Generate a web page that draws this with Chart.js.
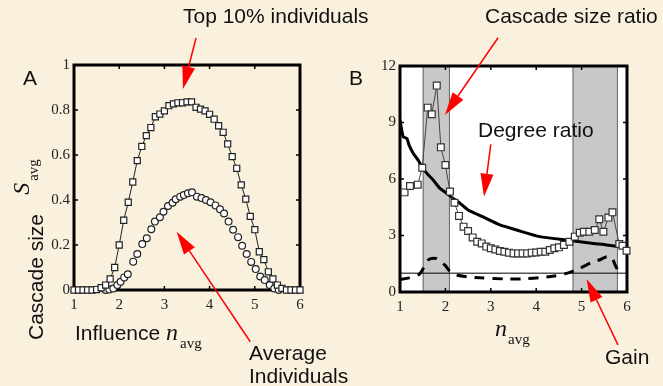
<!DOCTYPE html>
<html>
<head>
<meta charset="utf-8">
<script src="https://cdn.jsdelivr.net/npm/chart.js@4.4.0/dist/chart.umd.min.js"></script>
<style>
  html, body { margin: 0; padding: 0; }
  body {
    width: 663px; height: 386px; position: relative; overflow: hidden;
    background: #f9f1de;
    font-family: "Liberation Sans", Arial, sans-serif;
  }
  .box { position: absolute; top: 0; height: 386px; }
  #boxA { left: 0; width: 340px; }
  #boxB { left: 330px; width: 333px; }
  .lbl { position: absolute; font-size: 21px; color: #111; white-space: nowrap; line-height: 1; }
  .serif { font-family: "Liberation Serif", "Times New Roman", serif; }
  .rot { transform: translate(-50%, -50%) rotate(-90deg); }
</style>
</head>
<body>
<div class="box" id="boxA"><canvas id="chartA" width="340" height="386"></canvas></div>
<div class="box" id="boxB"><canvas id="chartB" width="333" height="386"></canvas></div>

<div class="lbl" style="left:183px; top:5px;">Top 10% individuals</div>
<div class="lbl" style="left:485px; top:5px;">Cascade size ratio</div>
<div class="lbl" style="left:478px; top:119px;">Degree ratio</div>
<div class="lbl" style="left:249px; top:342px;">Average</div>
<div class="lbl" style="left:249px; top:365px;">Individuals</div>
<div class="lbl" style="left:605px; top:346px;">Gain</div>
<div class="lbl" style="left:23px; top:67px;">A</div>
<div class="lbl" style="left:349px; top:67px;">B</div>
<div class="lbl rot" style="left:35px; top:277px;">Cascade size</div>
<div class="lbl rot serif" style="left:21px; top:178px;"><i style="font-size:24px;">S</i><span style="font-size:15px; position:relative; top:9px; left:2px;">avg</span></div>
<div class="lbl" style="left:75px; top:320px;">Influence <span class="serif"><i style="font-size:24px;">n</i><span style="font-size:15px; position:relative; top:8px; left:2px;">avg</span></span></div>
<div class="lbl serif" style="left:495px; top:316px;"><i style="font-size:24px;">n</i><span style="font-size:15px; position:relative; top:8px; left:1px;">avg</span></div>

<script>
// ---- Panel A: cascade size vs influence ----
const topN = [1.0, 1.1, 1.2, 1.3, 1.4, 1.5, 1.6, 1.7, 1.8, 1.9, 2.0, 2.1, 2.2, 2.3, 2.4, 2.5, 2.6, 2.7, 2.8, 2.9,
              3.0, 3.1, 3.2, 3.3, 3.4, 3.5, 3.6, 3.7, 3.8, 3.9, 4.0, 4.1, 4.2, 4.3, 4.4, 4.5, 4.6, 4.7, 4.8, 4.9,
              5.0, 5.1, 5.2, 5.3, 5.4, 5.5, 5.6, 5.7, 5.8, 5.9, 6.0];
const topS = [0, 0, 0, 0, 0, 0.002, 0.01, 0.022, 0.049, 0.1, 0.2, 0.31, 0.39, 0.48, 0.575, 0.638, 0.686, 0.722, 0.77, 0.782,
              0.796, 0.819, 0.827, 0.832, 0.832, 0.836, 0.836, 0.812, 0.804, 0.796, 0.781, 0.759, 0.73, 0.701, 0.649, 0.593, 0.541, 0.467, 0.404, 0.327,
              0.268, 0.17, 0.135, 0.081, 0.049, 0.022, 0.007, 0, 0, 0, 0];

const avgN = [1.7, 1.78, 1.87, 1.96, 2.03, 2.11, 2.19, 2.31, 2.40, 2.51, 2.61, 2.71, 2.79, 2.90, 2.98, 3.08, 3.18, 3.25,
              3.35, 3.43, 3.52, 3.61, 3.72, 3.82, 3.92, 4.02, 4.13, 4.23, 4.32, 4.42, 4.52, 4.63, 4.72, 4.82, 4.92,
              5.02, 5.12, 5.22, 5.33, 5.43, 5.53];
const avgS = [0, 0.002, 0.007, 0.022, 0.037, 0.056, 0.07, 0.126, 0.16, 0.204, 0.23, 0.27, 0.304, 0.323, 0.348, 0.373, 0.388, 0.403,
              0.415, 0.422, 0.43, 0.434, 0.415, 0.409, 0.4, 0.39, 0.376, 0.359, 0.34, 0.304, 0.268, 0.235, 0.197, 0.16, 0.125,
              0.093, 0.06, 0.044, 0.022, 0.007, 0];

// ---- Panel B: ratios and gain ----
const ratioN = [1.1, 1.22, 1.39, 1.49, 1.61, 1.70, 1.81, 1.90, 2.0, 2.1, 2.2, 2.3, 2.4, 2.5, 2.6, 2.7, 2.8, 2.9,
                3.0, 3.1, 3.2, 3.3, 3.4, 3.5, 3.6, 3.7, 3.8, 3.9, 4.0, 4.1, 4.2, 4.3, 4.4, 4.5,
                4.61, 4.73, 4.85, 4.96, 5.05, 5.17, 5.29, 5.39, 5.48, 5.59, 5.68, 5.83, 5.9, 5.99];
const ratioV = [5.29, 5.63, 5.70, 6.6, 9.79, 9.44, 10.96, 7.68, 6.74, 5.33, 4.74, 4.04, 3.47, 3.24, 2.9, 2.67, 2.58, 2.41,
                2.32, 2.26, 2.18, 2.14, 2.09, 2.05, 2.05, 2.05, 2.05, 2.09, 2.1, 2.14, 2.14, 2.23, 2.32, 2.37,
                2.5, 2.67, 2.94, 3.15, 3.2, 3.2, 3.29, 3.86, 3.2, 3.95, 4.23, 2.55, 2.46, 2.19];

const degreeN = [1.0, 1.07, 1.15, 1.2, 1.29, 1.4, 1.48, 1.59, 1.73, 1.88, 2.03, 2.17, 2.32, 2.5, 2.69, 2.84,
                 3.2, 3.57, 4.08, 4.67, 5.26, 5.55, 5.99];
const degreeV = [9.13, 8.25, 8.16, 7.8, 7.37, 7.0, 6.65, 6.3, 5.95, 5.5, 5.24, 4.97, 4.71, 4.35, 4.14, 3.97,
                 3.56, 3.29, 2.94, 2.76, 2.58, 2.5, 2.35];

const gainN = [1.0, 1.2, 1.44, 1.62, 1.8, 1.9, 2.0, 2.1, 2.25, 2.5, 2.76, 3.35, 3.7, 4.08, 4.4, 4.67, 4.96, 5.26,
               5.39, 5.55, 5.66, 5.74, 5.81];
const gainV = [0.66, 0.75, 0.98, 1.7, 1.78, 1.62, 1.4, 1.1, 0.9, 0.8, 0.76, 0.69, 0.7, 0.76, 0.85, 0.99, 1.26, 1.61,
               1.7, 1.87, 1.84, 1.43, 1.1];

const bandFrom = [1.5, 4.8];
const bandTo = [2.1, 5.8];
const refLevel = 1;

const serif = "'Liberation Serif', 'Times New Roman', serif";

function pts(xs, ys) {
    return xs.map((x, i) => ({ x: x, y: ys[i] }));
}

// Frame, inward ticks, shaded bands and red arrows
const framePlugin = {
    id: "frame",
    beforeDatasetsDraw(chart, args, opts) {
        const { ctx, chartArea: a, scales: { x, y } } = chart;
        ctx.save();
        if (opts.bands) {
            ctx.fillStyle = "#ffffff";
            ctx.fillRect(a.left, a.top, a.width, a.height);
            opts.bands.from.forEach((f, i) => {
                const x0 = x.getPixelForValue(f);
                const x1 = x.getPixelForValue(opts.bands.to[i]);
                ctx.fillStyle = "#c8c8c8";
                ctx.fillRect(x0, a.top, x1 - x0, a.height);
                ctx.strokeStyle = "#666";
                ctx.lineWidth = 1;
                ctx.strokeRect(x0 + 0.5, a.top, x1 - x0 - 1, a.height);
            });
        }
        ctx.strokeStyle = "#000";
        ctx.lineWidth = 1.5;
        ctx.beginPath();
        x.ticks.forEach(t => {
            const px = x.getPixelForValue(t.value);
            ctx.moveTo(px, a.bottom); ctx.lineTo(px, a.bottom - 4);
            ctx.moveTo(px, a.top); ctx.lineTo(px, a.top + 4);
        });
        y.ticks.forEach(t => {
            const py = y.getPixelForValue(t.value);
            ctx.moveTo(a.left, py); ctx.lineTo(a.left + 4, py);
            ctx.moveTo(a.right, py); ctx.lineTo(a.right - 4, py);
        });
        ctx.stroke();
        ctx.lineWidth = 3;
        ctx.strokeRect(a.left, a.top, a.width, a.height);
        ctx.restore();
    },
    afterDraw(chart, args, opts) {
        const { ctx, scales: { x, y } } = chart;
        ctx.save();
        ctx.strokeStyle = "#ff0000";
        ctx.fillStyle = "#ff0000";
        ctx.lineWidth = 1.5;
        (opts.arrows || []).forEach(ar => {
            const x0 = x.getPixelForValue(ar.from[0]), y0 = y.getPixelForValue(ar.from[1]);
            const x1 = x.getPixelForValue(ar.to[0]), y1 = y.getPixelForValue(ar.to[1]);
            const ang = Math.atan2(y1 - y0, x1 - x0);
            const len = 23, half = 6.5;
            const bx = x1 - len * Math.cos(ang), by = y1 - len * Math.sin(ang);
            ctx.beginPath();
            ctx.moveTo(x0, y0);
            ctx.lineTo(bx, by);
            ctx.stroke();
            ctx.beginPath();
            ctx.moveTo(x1, y1);
            ctx.lineTo(bx + half * Math.sin(ang), by - half * Math.cos(ang));
            ctx.lineTo(bx - half * Math.sin(ang), by + half * Math.cos(ang));
            ctx.closePath();
            ctx.fill();
        });
        ctx.restore();
    }
};

function axes(yMax, yStep, yWidth, xHeight) {
    const tickFont = { family: serif, size: 15 };
    return {
        x: {
            type: "linear", min: 1, max: 6,
            ticks: { stepSize: 1, color: "#222", font: tickFont, padding: 6 },
            grid: { display: false, drawTicks: false },
            border: { display: false },
            afterFit: s => { s.height = xHeight; }
        },
        y: {
            type: "linear", min: 0, max: yMax,
            ticks: {
                stepSize: yStep, color: "#222", font: tickFont, padding: 4,
                callback: v => String(Math.round(v * 10) / 10)
            },
            grid: { display: false, drawTicks: false },
            border: { display: false },
            afterFit: s => { s.width = yWidth; }
        }
    };
}

new Chart(document.getElementById("chartA"), {
    type: "scatter",
    data: {
        datasets: [
            {
                label: "Top 10% individuals",
                data: pts(topN, topS),
                showLine: true,
                borderColor: "#222",
                borderWidth: 1,
                pointStyle: "rect",
                pointRadius: 4.3,
                pointBackgroundColor: "#ffffff",
                pointBorderColor: "#222",
                pointBorderWidth: 1.2,
                clip: false
            },
            {
                label: "Average individuals",
                data: pts(avgN, avgS),
                showLine: false,
                pointStyle: "circle",
                pointRadius: 3.4,
                pointBackgroundColor: "#ffffff",
                pointBorderColor: "#222",
                pointBorderWidth: 1.2,
                clip: false
            }
        ]
    },
    options: {
        responsive: false,
        animation: false,
        events: [],
        layout: { padding: { left: 0, top: 65, right: 40, bottom: 0 } },
        scales: axes(1, 0.2, 74, 96),
        plugins: {
            legend: { display: false },
            tooltip: { enabled: false },
            frame: {
                arrows: [
                    { from: [3.70, 1.12], to: [3.41, 0.893] },
                    { from: [4.90, -0.23], to: [3.27, 0.259] }
                ]
            }
        }
    },
    plugins: [framePlugin]
});

new Chart(document.getElementById("chartB"), {
    type: "scatter",
    data: {
        datasets: [
            {
                label: "Cascade size ratio",
                data: pts(ratioN, ratioV),
                showLine: true,
                borderColor: "#444",
                borderWidth: 1,
                pointStyle: "rect",
                pointRadius: 4.8,
                pointBackgroundColor: "#ffffff",
                pointBorderColor: "#333",
                pointBorderWidth: 1.2,
                clip: false
            },
            {
                label: "Degree ratio",
                data: pts(degreeN, degreeV),
                showLine: true,
                borderColor: "#000",
                borderWidth: 3,
                pointRadius: 0,
                tension: 0.2
            },
            {
                label: "Gain",
                data: pts(gainN, gainV),
                showLine: true,
                borderColor: "#000",
                borderWidth: 3,
                borderDash: [10, 8],
                pointRadius: 0,
                tension: 0.3
            },
            {
                label: "Unity",
                data: pts([1, 6], [refLevel, refLevel]),
                showLine: true,
                borderColor: "#000",
                borderWidth: 1,
                pointRadius: 0
            }
        ]
    },
    options: {
        responsive: false,
        animation: false,
        events: [],
        layout: { padding: { left: 0, top: 66, right: 36, bottom: 0 } },
        scales: axes(12, 3, 70, 94),
        plugins: {
            legend: { display: false },
            tooltip: { enabled: false },
            frame: {
                bands: { from: bandFrom, to: bandTo },
                arrows: [
                    { from: [3.16, 13.5], to: [1.99, 9.4] },
                    { from: [3.0, 7.84], to: [2.85, 5.06] },
                    { from: [5.80, -2.81], to: [5.11, 0.69] }
                ]
            }
        }
    },
    plugins: [framePlugin]
});
</script>
</body>
</html>
